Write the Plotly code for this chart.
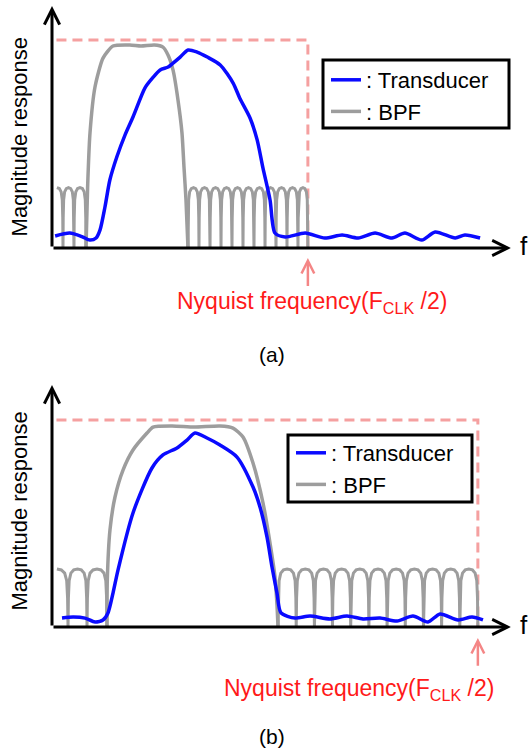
import plotly.graph_objects as go

# ---------------- data (frequency: arbitrary units, magnitude: pass-band limit = 1) -------------
nyq_a = 5.75            # Nyquist frequency, panel (a)
nyq_b = 9.57            # Nyquist frequency, panel (b)
dash_start = 0.10
f_axis_end = 10.31
mag_axis_end_a = 1.163
mag_axis_end_b = 1.169

# Transducer response, panel (a)
trans_a_f = [0.07, 0.40, 0.67, 0.85, 0.99, 1.08, 1.19, 1.30, 1.46, 1.64, 1.82, 2.09, 2.27, 2.43,
             2.61, 2.72, 2.88, 3.06, 3.26, 3.49, 3.78, 4.07, 4.22, 4.45, 4.61, 4.74, 4.90, 5.01,
             5.24, 5.69, 6.13, 6.52, 6.88, 7.26, 7.64, 7.93, 8.31, 8.61, 9.06, 9.28, 9.62]
trans_a_m = [0.058, 0.072, 0.055, 0.038, 0.048, 0.087, 0.197, 0.327, 0.44, 0.543, 0.63, 0.77, 0.82, 0.856,
             0.87, 0.889, 0.918, 0.952, 0.942, 0.918, 0.88, 0.793, 0.72, 0.625, 0.52, 0.385, 0.231, 0.072,
             0.053, 0.072, 0.048, 0.0625, 0.048, 0.072, 0.048, 0.072, 0.038, 0.077, 0.048, 0.0625, 0.048]

# BPF main lobe, panel (a)
bpf_a_main_f = [0.764, 0.80, 0.854, 0.966, 1.146, 1.371, 1.75, 2.0, 2.3, 2.494, 2.607, 2.719,
                2.831, 2.921, 2.966, 3.011, 3.056]
bpf_a_main_m = [0.0, 0.29, 0.553, 0.774, 0.913, 0.971, 0.976, 0.971, 0.976, 0.966, 0.928, 0.856,
                0.712, 0.553, 0.389, 0.231, 0.0]
# BPF side lobes, panel (a)
bpf_a_left_start = 0.11
bpf_a_left_nulls = [0.247, 0.494, 0.764]
bpf_a_right_nulls = [3.056, 3.303, 3.551, 3.798, 4.045, 4.292, 4.539, 4.787, 5.034, 5.281, 5.528, 5.75]
bpf_a_lobe = 0.29

# Transducer response, panel (b)
trans_b_f = [0.225, 0.472, 0.742, 0.966, 1.146, 1.258, 1.371, 1.483, 1.820, 2.247, 2.494, 2.809,
             3.034, 3.213, 3.483, 3.775, 4.157, 4.517, 4.674, 4.831, 4.944, 5.056, 5.146, 5.461,
             5.798, 6.247, 6.629, 6.989, 7.371, 7.753, 8.112, 8.449, 8.719, 9.124, 9.438, 9.685]
trans_b_m = [0.043, 0.048, 0.043, 0.024, 0.034, 0.068, 0.164, 0.275, 0.551, 0.768, 0.831, 0.865,
             0.903, 0.937, 0.913, 0.879, 0.821, 0.676, 0.580, 0.435, 0.290, 0.164, 0.068, 0.043,
             0.053, 0.039, 0.053, 0.039, 0.043, 0.029, 0.053, 0.024, 0.063, 0.034, 0.048, 0.034]

# BPF main lobe, panel (b)
bpf_b_main_f = [1.236, 1.243, 1.303, 1.416, 1.596, 1.82, 2.135, 2.27, 2.7, 3.2, 3.775, 4.067,
                4.292, 4.517, 4.742, 4.899, 5.011, 5.056, 5.079]
bpf_b_main_m = [0.0, 0.227, 0.469, 0.628, 0.758, 0.855, 0.937, 0.966, 0.971, 0.966, 0.971, 0.961,
                0.918, 0.792, 0.599, 0.406, 0.242, 0.106, 0.0]
# BPF side lobes, panel (b)
bpf_b_left_start = 0.11
bpf_b_left_nulls = [0.360, 0.787, 1.236]
bpf_b_right_nulls = [5.079, 5.488, 5.897, 6.303, 6.712, 7.121, 7.530, 7.939, 8.348, 8.755, 9.164, 9.57]
bpf_b_lobe = 0.28

# shape of one side lobe (fraction of lobe width, fraction of lobe height)
lobe_t = [0.0, 0.02, 0.06, 0.15, 0.3, 0.5]
lobe_r = [0.0, 0.5, 0.8, 0.93, 0.985, 1.0]

legend_names = [": Transducer", ": BPF"]
caption_a = "(a)"
caption_b = "(b)"
nyq_label = "Nyquist frequency(F<sub>CLK</sub> /2)"
y_title = "Magnitude response"

# ---------------- helpers ----------------
def side_lobes(start, left_nulls, right_nulls, h):
    xs, ys = [], []
    hw = left_nulls[0] - start
    for t, r in zip(reversed(lobe_t), reversed(lobe_r)):
        xs.append(left_nulls[0] - t * 2 * hw)
        ys.append(r * h)
    out = [(xs, ys)]
    for nulls in [left_nulls, right_nulls]:
        sx, sy = [], []
        for x0, x1 in zip(nulls[:-1], nulls[1:]):
            w = x1 - x0
            for t, r in zip(lobe_t, lobe_r):
                sx.append(x0 + t * w); sy.append(r * h)
            for t, r in zip(list(reversed(lobe_t))[1:], list(reversed(lobe_r))[1:]):
                sx.append(x1 - t * w); sy.append(r * h)
        out.append((sx, sy))
    lx = out[0][0] + out[1][0]
    ly = out[0][1] + out[1][1]
    return (lx, ly), out[2]

FONT = "Liberation Sans, Arial, sans-serif"
BLUE = "#0a0aff"
GRAY = "#9d9d9d"
PINK = "#f5a0a0"
RED = "#ff1a1a"

fig = go.Figure()

def add_panel(xa, ya, leg, f_main, m_main, start, lnulls, rnulls, h, tf, tm, nyq):
    fig.add_trace(go.Scatter(x=[dash_start, nyq, nyq], y=[1, 1, 0], mode="lines",
                             line=dict(color=PINK, width=3, dash="10px,6px"),
                             showlegend=False, hoverinfo="skip", xaxis=xa, yaxis=ya))
    (lx, ly), (rx, ry) = side_lobes(start, lnulls, rnulls, h)
    for sx, sy in [(lx, ly), (rx, ry)]:
        fig.add_trace(go.Scatter(x=sx, y=sy, mode="lines", line=dict(color=GRAY, width=3),
                                 showlegend=False, hoverinfo="skip", xaxis=xa, yaxis=ya))
    fig.add_trace(go.Scatter(x=f_main, y=m_main, mode="lines", name=legend_names[1],
                             line=dict(color=GRAY, width=3.5, shape="spline", smoothing=0.6),
                             legend=leg, legendrank=2, xaxis=xa, yaxis=ya))
    fig.add_trace(go.Scatter(x=tf, y=tm, mode="lines", name=legend_names[0],
                             line=dict(color=BLUE, width=3.5, shape="spline", smoothing=0.7),
                             legend=leg, legendrank=1, xaxis=xa, yaxis=ya))

add_panel("x", "y", "legend", bpf_a_main_f, bpf_a_main_m, bpf_a_left_start, bpf_a_left_nulls,
          bpf_a_right_nulls, bpf_a_lobe, trans_a_f, trans_a_m, nyq_a)
add_panel("x2", "y2", "legend2", bpf_b_main_f, bpf_b_main_m, bpf_b_left_start, bpf_b_left_nulls,
          bpf_b_right_nulls, bpf_b_lobe, trans_b_f, trans_b_m, nyq_b)

W, H = 530, 755
K = 44.5  # px per frequency unit
ann = []

def axis_arrows(xr, yr, yend, nyq, lab_y, cap_y, cap, title_y, arrow_tip, arrow_tail, lab_x):
    common = dict(xref=xr, yref=yr, axref=xr, ayref=yr, text="", showarrow=True,
                  arrowcolor="black", arrowwidth=3, arrowhead=5, arrowsize=1, standoff=0)
    ann.append(dict(x=f_axis_end, y=0, ax=0, ay=0, **common))
    ann.append(dict(x=0, y=yend, ax=0, ay=0, **common))
    ann.append(dict(x=f_axis_end + 0.30, y=0.01, xref=xr, yref=yr, text="f", showarrow=False,
                    font=dict(family=FONT, size=26, color="black"), xanchor="center", yanchor="middle"))
    ann.append(dict(x=-0.73, y=title_y, xref=xr, yref=yr, text=y_title, textangle=-90, showarrow=False,
                    font=dict(family=FONT, size=22, color="black"), xanchor="center", yanchor="middle"))
    ann.append(dict(x=nyq, y=arrow_tip, ax=nyq, ay=arrow_tail, xref=xr, yref=yr, axref=xr, ayref=yr,
                    text="", showarrow=True, arrowcolor="#f48686", arrowwidth=2.5, arrowhead=5,
                    arrowsize=1, standoff=0))
    ann.append(dict(x=lab_x, y=lab_y, xref=xr, yref=yr, text=nyq_label, showarrow=False,
                    font=dict(family=FONT, size=23, color=RED), xanchor="center", yanchor="middle"))
    ann.append(dict(x=4.94, y=cap_y, xref=xr, yref=yr, text=cap, showarrow=False,
                    font=dict(family=FONT, size=21, color="black"), xanchor="center", yanchor="middle"))

axis_arrows("x", "y", mag_axis_end_a, nyq_a, -0.262, -0.514, caption_a, 0.534, -0.048, -0.19, 5.84)
axis_arrows("x2", "y2", mag_axis_end_b, nyq_b, -0.30, -0.527, caption_b, 0.56, -0.053, -0.195, 6.90)

# legend frames (pixel boxes of the reference)
def frame(x0, y0, x1, y1):
    return dict(type="rect", xref="paper", yref="paper", x0=x0 / W, x1=x1 / W,
                y0=1 - y1 / H, y1=1 - y0 / H, line=dict(color="black", width=3),
                fillcolor="white", layer="above")

xr = [-52 / K, (W - 52) / K]
leg_common = dict(xanchor="left", yanchor="top", borderwidth=0, bgcolor="rgba(0,0,0,0)",
                  font=dict(family=FONT, size=22, color="black"), tracegroupgap=0, itemwidth=30)
fig.update_layout(
    width=W, height=H, margin=dict(l=0, r=0, t=0, b=0),
    paper_bgcolor="white", plot_bgcolor="white",
    xaxis=dict(domain=[0, 1], range=xr, visible=False, anchor="y"),
    yaxis=dict(domain=[1 - 370 / H, 1], range=[(248 - 370) / 208, 248 / 208], visible=False, anchor="x"),
    xaxis2=dict(domain=[0, 1], range=xr, visible=False, anchor="y2"),
    yaxis2=dict(domain=[0, 1 - 378 / H], range=[(627 - 755) / 207, (627 - 378) / 207], visible=False,
                anchor="x2"),
    legend=dict(x=326 / W, y=1 - 59 / H, **leg_common),
    legend2=dict(x=291 / W, y=1 - 432 / H, **leg_common),
    shapes=[frame(323, 60, 509, 128), frame(288, 435, 472, 502)],
    annotations=ann,
    showlegend=True,
)

fig.write_html("out.html")
